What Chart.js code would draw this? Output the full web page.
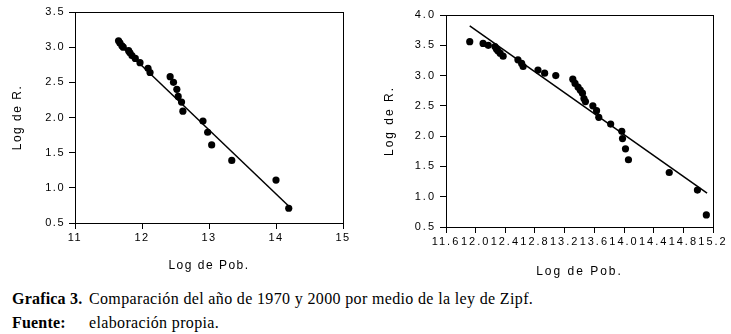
<!DOCTYPE html>
<html>
<head>
<meta charset="utf-8">
<script src="https://cdn.jsdelivr.net/npm/chart.js@4"></script>
<style>
  body { margin: 0; background: #fff; width: 731px; height: 334px; overflow: hidden; position: relative; }
  canvas { position: absolute; top: 0; }
  #c1 { left: 0; }
  #c2 { left: 370px; }
  .cap { position: absolute; font-family: "Liberation Serif", "Times New Roman", serif; font-size: 16px; letter-spacing: 0.35px; line-height: 18px; color: #000; white-space: nowrap; }
  .b { font-weight: bold; letter-spacing: 0.2px; }
</style>
</head>
<body>
<canvas id="c1" width="365" height="280"></canvas>
<canvas id="c2" width="361" height="280"></canvas>
<div class="cap b" style="left:12px; top:290px;">Grafica 3.</div>
<div class="cap" style="left:89px; top:290px;">Comparación del año de 1970 y 2000 por medio de la ley de Zipf.</div>
<div class="cap b" style="left:12px; top:314px;">Fuente:</div>
<div class="cap" style="left:89px; top:314px;">elaboración propia.</div>
<script>
// 1970
var pob1970 = [11.65, 11.67, 11.70, 11.72, 11.80, 11.82, 11.85, 11.90, 11.97, 12.09, 12.12, 12.42, 12.47, 12.52, 12.54, 12.59, 12.61, 12.91, 12.98, 13.04, 13.34, 14.00, 14.19];
var rango1970 = [3.09, 3.06, 3.02, 3.00, 2.95, 2.92, 2.88, 2.84, 2.78, 2.70, 2.64, 2.58, 2.50, 2.40, 2.30, 2.22, 2.09, 1.95, 1.79, 1.61, 1.39, 1.11, 0.71];
var ajusteX1970 = [11.62, 14.20];
var ajusteY1970 = [3.08, 0.73];

// 2000
var pob2000 = [11.92, 12.10, 12.17, 12.26, 12.28, 12.30, 12.33, 12.37, 12.57, 12.62, 12.64, 12.84, 12.93, 13.08, 13.31, 13.34, 13.38, 13.41, 13.44, 13.46, 13.48, 13.58, 13.63, 13.66, 13.82, 13.97, 13.98, 14.02, 14.06, 14.61, 14.99, 15.11];
var rango2000 = [3.56, 3.53, 3.50, 3.48, 3.44, 3.41, 3.37, 3.32, 3.26, 3.20, 3.15, 3.09, 3.04, 3.00, 2.94, 2.87, 2.81, 2.76, 2.71, 2.62, 2.57, 2.50, 2.42, 2.31, 2.20, 2.08, 1.96, 1.79, 1.61, 1.40, 1.11, 0.70];
var ajusteX2000 = [11.92, 15.12];
var ajusteY2000 = [3.82, 1.06];

var fuente = '"Liberation Sans", Arial, sans-serif';

function puntos(xs, ys) {
    return xs.map(function (x, i) { return { x: x, y: ys[i] }; });
}

// marco completo alrededor del area + espaciado de letras
var marco = {
    id: 'marco',
    beforeDraw: function (chart, args, opts) {
        chart.ctx.letterSpacing = opts.espacio || '0px';
    },
    afterDraw: function (chart) {
        var a = chart.chartArea, ctx = chart.ctx;
        ctx.save();
        ctx.strokeStyle = '#000';
        ctx.lineWidth = 1;
        ctx.strokeRect(Math.round(a.left) + 0.5, Math.round(a.top) + 0.5, Math.round(a.right - a.left), Math.round(a.bottom - a.top));
        ctx.restore();
        ctx.letterSpacing = '0px';
    }
};

function grafica(id, cfg) {
    return new Chart(document.getElementById(id), {
        type: 'scatter',
        data: {
            datasets: [{
                data: puntos(cfg.xs, cfg.ys),
                backgroundColor: '#000',
                borderWidth: 0,
                pointRadius: 3.6,
                pointHoverRadius: 3.6
            }, {
                type: 'line',
                data: puntos(cfg.fx, cfg.fy),
                borderColor: '#000',
                borderWidth: 1.5,
                pointRadius: 0,
                fill: false
            }]
        },
        options: {
            responsive: false,
            animation: false,
            devicePixelRatio: 1,
            events: [],
            layout: { padding: cfg.pad },
            plugins: {
                legend: { display: false },
                tooltip: { enabled: false },
                marco: { espacio: cfg.espacio }
            },
            scales: {
                x: {
                    type: 'linear',
                    min: cfg.xmin, max: cfg.xmax,
                    afterFit: function (s) { s.height = cfg.altoX; },
                    grid: { drawOnChartArea: false, drawTicks: true, tickLength: 6, color: '#000' },
                    border: { display: true, color: '#000', width: 1 },
                    ticks: {
                        stepSize: cfg.xpaso, autoSkip: false, maxRotation: 0, minRotation: 0,
                        padding: 2, color: '#000', font: { family: fuente, size: 11 },
                        callback: function (v) { return cfg.xdec ? v.toFixed(cfg.xdec) : String(Math.round(v)); }
                    },
                    title: { display: true, text: 'Log de Pob.', color: '#000', font: { family: fuente, size: 12 }, padding: { top: 4, bottom: cfg.tituloX } }
                },
                y: {
                    min: cfg.ymin, max: cfg.ymax,
                    afterFit: function (s) { s.width = cfg.anchoY; },
                    grid: { drawOnChartArea: false, drawTicks: true, tickLength: 6, color: '#000' },
                    border: { display: true, color: '#000', width: 1 },
                    ticks: {
                        stepSize: 0.5, padding: 4, color: '#000', font: { family: fuente, size: 11 },
                        callback: function (v) { return v.toFixed(1); }
                    },
                    title: { display: true, text: 'Log de R.', color: '#000', font: { family: fuente, size: 12 }, padding: { top: cfg.tituloY, bottom: 4 } }
                }
            }
        },
        plugins: [marco]
    });
}

grafica('c1', {
    xs: pob1970, ys: rango1970, fx: ajusteX1970, fy: ajusteY1970,
    xmin: 11, xmax: 15, xpaso: 1, xdec: 0,
    ymin: 0.5, ymax: 3.5,
    pad: { left: 0, top: 12, right: 22, bottom: 0 },
    anchoY: 75, altoX: 57, tituloY: 10, tituloX: 7, espacio: '1.5px'
});

grafica('c2', {
    xs: pob2000, ys: rango2000, fx: ajusteX2000, fy: ajusteY2000,
    xmin: 11.6, xmax: 15.2, xpaso: 0.4, xdec: 1,
    ymin: 0.5, ymax: 4.0,
    pad: { left: 0, top: 15, right: 18, bottom: 0 },
    anchoY: 76, altoX: 53, tituloY: 12, tituloX: 1, espacio: '2px'
});
</script>
</body>
</html>
